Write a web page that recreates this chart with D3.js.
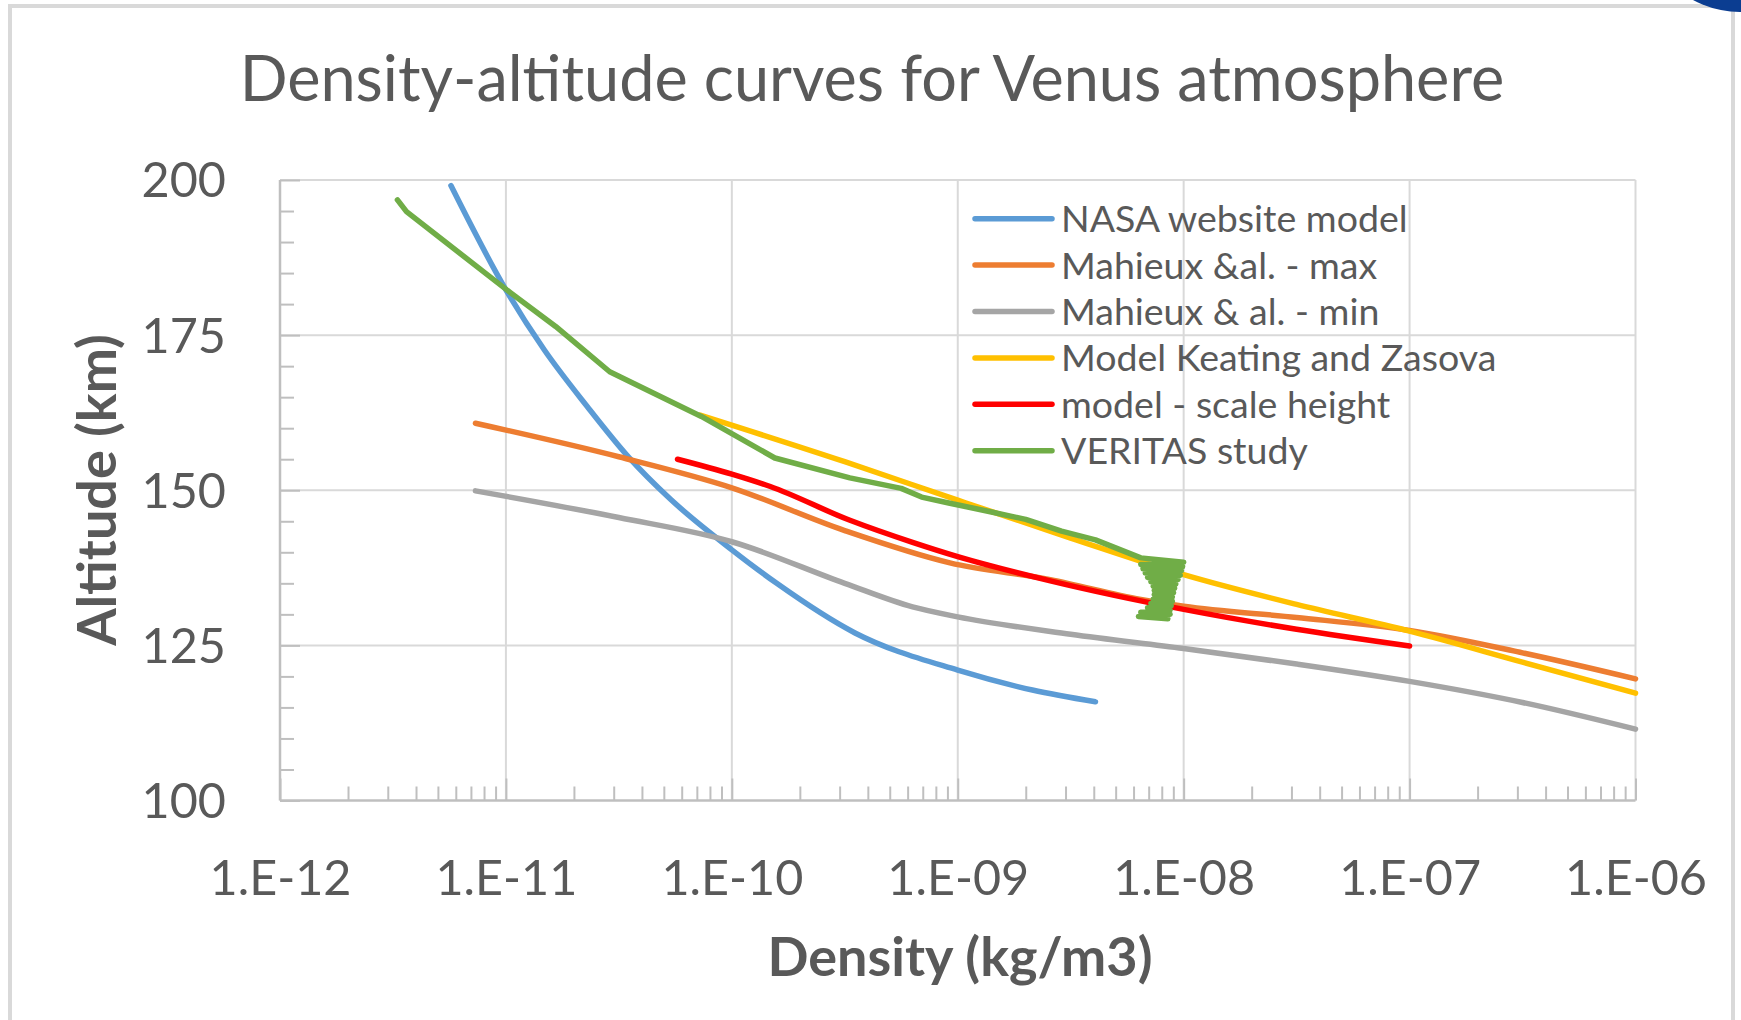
<!DOCTYPE html>
<html>
<head>
<meta charset="utf-8">
<title>Density-altitude curves for Venus atmosphere</title>
<script src="https://d3js.org/d3.v7.min.js"></script>
<style>
  body { margin: 0; background: #fff; }
  text { font-family: Lato, "Open Sans", sans-serif; fill: #595959; }
</style>
</head>
<body>
<svg id="chart" width="1741" height="1020"></svg>
<script>
// series names, in the legend order
var seriesNames = ["NASA website model", "Mahieux &al. - max", "Mahieux & al. - min",
  "Model Keating and Zasova", "model - scale height", "VERITAS study"];
var seriesColors = ["#5b9bd5", "#ed7d31", "#a5a5a5", "#ffc000", "#ff0000", "#70ad47"];

// density (kg/m3), altitude (km)
var nasaDensity = [5.71e-12, 1.0e-11, 1.48e-11, 2.29e-11, 3.50e-11, 5.37e-11, 1.0e-10, 1.58e-10, 3.51e-10, 1.0e-9, 2.14e-9, 4.07e-9];
var nasaAlt     = [199.1, 182.3, 172.6, 163.5, 155.3, 148.5, 140.4, 135.0, 127.0, 121.0, 117.8, 115.9];

var maxDensity = [7.33e-12, 3.16e-11, 1.0e-10, 3.16e-10, 9.23e-10, 2.57e-9, 6.46e-9, 1.0e-8, 3.16e-8, 1.0e-7, 3.16e-7, 1.0e-6];
var maxAlt     = [160.8, 155.4, 150.4, 143.5, 138.3, 135.6, 132.4, 131.3, 129.5, 127.4, 123.8, 119.6];

var minDensity = [7.33e-12, 3.16e-11, 1.0e-10, 3.16e-10, 6.31e-10, 1.0e-9, 3.16e-9, 1.0e-8, 3.16e-8, 1.0e-7, 3.16e-7, 1.0e-6];
var minAlt     = [149.9, 145.6, 141.7, 135.0, 131.2, 129.6, 126.8, 124.5, 122.0, 119.2, 115.8, 111.5];

var keatingDensity = [7.24e-11, 3.16e-10, 1.0e-9, 3.16e-9, 1.0e-8, 3.16e-8, 1.0e-7, 3.16e-7, 1.0e-6];
var keatingAlt     = [162.1, 154.6, 148.4, 142.3, 136.4, 131.6, 127.3, 122.3, 117.3];

var scaleHDensity = [5.75e-11, 1.0e-10, 1.48e-10, 3.31e-10, 6.31e-10, 1.0e-9, 2.57e-9, 1.0e-8, 3.16e-8, 1.0e-7];
var scaleHAlt     = [155.0, 152.6, 150.6, 145.2, 141.6, 139.3, 135.4, 130.8, 127.6, 124.9];

// the VERITAS data ends in a dense back-and-forth scribble near 1e-8
var veritasDensity = [3.31e-12, 3.63e-12, 1.05e-11, 1.66e-11, 2.88e-11, 7.33e-11, 1.55e-10, 3.33e-10, 5.62e-10, 6.92e-10,
  9.23e-10, 1.41e-9, 2.0e-9, 2.88e-9, 4.07e-9, 6.46e-9,
  1.0e-8, 6.46e-9, 9.89e-9, 6.61e-9, 9.77e-9, 6.76e-9, 9.66e-9, 6.92e-9, 9.44e-9, 7.16e-9, 9.23e-9, 7.33e-9,
  9.12e-9, 7.41e-9, 9.02e-9, 7.41e-9, 8.91e-9, 7.33e-9, 8.91e-9, 7.16e-9, 8.81e-9, 6.92e-9, 8.71e-9, 6.46e-9,
  8.71e-9, 6.31e-9, 8.51e-9];
var veritasAlt     = [196.8, 194.9, 181.8, 176.4, 169.1, 161.9, 155.2, 152.0, 150.3, 148.9,
  147.9, 146.5, 145.3, 143.4, 142.0, 139.1,
  138.4, 138.05, 137.7, 137.35, 137.0, 136.65, 136.3, 135.95, 135.6, 135.25, 134.9, 134.55,
  134.2, 133.85, 133.5, 133.15, 132.8, 132.45, 132.1, 131.75, 131.4, 131.05, 130.7, 130.35,
  130.0, 129.65, 129.3];

var xTicks = [1e-12, 1e-11, 1e-10, 1e-9, 1e-8, 1e-7, 1e-6];
var yTicks = [100, 125, 150, 175, 200];

var series = [
  {x: nasaDensity, y: nasaAlt, smooth: true},
  {x: maxDensity, y: maxAlt, smooth: true},
  {x: minDensity, y: minAlt, smooth: true},
  {x: keatingDensity, y: keatingAlt, smooth: true},
  {x: scaleHDensity, y: scaleHAlt, smooth: true},
  {x: veritasDensity, y: veritasAlt, smooth: false}
];

var svg = d3.select("#chart");

// frame of the slide
svg.append("rect")
  .attr("x", 10).attr("y", 6).attr("width", 1723).attr("height", 1030)
  .attr("fill", "#fff").attr("stroke", "#d9d9d9").attr("stroke-width", 4);
svg.append("circle").attr("cx", 1740).attr("cy", -86).attr("r", 98).attr("fill", "#0b3d91");

var plotLeft = 280, plotRight = 1635.5, plotTop = 180, plotBottom = 800.5;

var x = d3.scaleLog().domain([1e-12, 1e-6]).range([plotLeft, plotRight]);
var y = d3.scaleLinear().domain([100, 200]).range([plotBottom, plotTop]);

// title
svg.append("text")
  .attr("x", 872).attr("y", 101)
  .attr("text-anchor", "middle")
  .style("font-size", "63px")
  .text("Density-altitude curves for Venus atmosphere");

// grid
var grid = svg.append("g").attr("stroke", "#d9d9d9").attr("stroke-width", 2);
grid.selectAll(".gx").data(xTicks.slice(1)).enter().append("line")
  .attr("x1", d => x(d)).attr("x2", d => x(d)).attr("y1", plotTop).attr("y2", plotBottom);
grid.selectAll(".gy").data(yTicks.slice(1)).enter().append("line")
  .attr("x1", plotLeft).attr("x2", plotRight).attr("y1", d => y(d)).attr("y2", d => y(d));

// minor ticks (inside)
var xMinor = [];
xTicks.slice(0, -1).forEach(function (d) {
  for (var k = 2; k <= 9; k++) xMinor.push(d * k);
});
var yMinor = d3.range(105, 200, 5).filter(d => d % 25 !== 0);

function tickStyle(g) {
  g.select(".domain").remove();
  g.selectAll("line").attr("stroke", "#bfbfbf").attr("stroke-width", 2);
}
svg.append("g").attr("transform", "translate(0," + plotBottom + ")")
  .call(d3.axisBottom(x).tickValues(xMinor).tickSize(-14).tickFormat(""))
  .call(tickStyle);
svg.append("g").attr("transform", "translate(0," + plotBottom + ")")
  .call(d3.axisBottom(x).tickValues(xTicks).tickSize(-22).tickFormat(""))
  .call(tickStyle);
svg.append("g").attr("transform", "translate(" + plotLeft + ",0)")
  .call(d3.axisLeft(y).tickValues(yMinor).tickSize(-14).tickFormat(""))
  .call(tickStyle);
svg.append("g").attr("transform", "translate(" + plotLeft + ",0)")
  .call(d3.axisLeft(y).tickValues(yTicks).tickSize(-20).tickFormat(""))
  .call(tickStyle);

// axis lines
svg.append("line").attr("x1", plotLeft).attr("x2", plotRight).attr("y1", plotBottom).attr("y2", plotBottom)
  .attr("stroke", "#bfbfbf").attr("stroke-width", 2.5);
svg.append("line").attr("x1", plotLeft).attr("x2", plotLeft).attr("y1", plotTop).attr("y2", plotBottom)
  .attr("stroke", "#bfbfbf").attr("stroke-width", 2.5);

// tick labels
function sci(d) {
  var e = Math.round(Math.log10(d));
  return "1.E" + (e < 0 ? "-" : "+") + String(Math.abs(e)).padStart(2, "0");
}
svg.append("g").attr("transform", "translate(0," + plotBottom + ")")
  .call(d3.axisBottom(x).tickValues(xTicks).tickSize(0).tickPadding(0).tickFormat(sci))
  .call(g => g.select(".domain").remove())
  .call(g => g.selectAll("text").attr("y", 94).attr("dy", null)
    .style("font-size", "48.5px").attr("fill", "#595959").style("font-family", "Lato, sans-serif"));
svg.append("g").attr("transform", "translate(226,0)")
  .call(d3.axisLeft(y).tickValues(yTicks).tickSize(0).tickPadding(0))
  .call(g => g.select(".domain").remove())
  .call(g => g.selectAll("text").attr("x", 0).attr("dy", "0.35em")
    .style("font-size", "48.5px").attr("fill", "#595959").style("font-family", "Lato, sans-serif"));

// axis titles
svg.append("text")
  .attr("transform", "translate(116,490) rotate(-90)")
  .attr("text-anchor", "middle")
  .style("font-size", "54px").style("font-weight", "bold")
  .text("Altitude (km)");
svg.append("text")
  .attr("x", 960).attr("y", 976)
  .attr("text-anchor", "middle")
  .style("font-size", "54px").style("font-weight", "bold")
  .text("Density (kg/m3)");

// curves
var plot = svg.append("g");
series.forEach(function (s, i) {
  var pts = d3.zip(s.x, s.y);
  var line = d3.line()
    .x(d => x(d[0])).y(d => y(d[1]))
    .curve(s.smooth ? d3.curveMonotoneX : d3.curveLinear);
  plot.append("path")
    .attr("d", line(pts))
    .attr("fill", "none")
    .attr("stroke", seriesColors[i])
    .attr("stroke-width", 5.5)
    .attr("stroke-linejoin", "round")
    .attr("stroke-linecap", "round");
});

// legend
var legend = svg.append("g").attr("transform", "translate(975,218.7)");
var rows = legend.selectAll("g").data(seriesNames).enter().append("g")
  .attr("transform", (d, i) => "translate(0," + i * 46.4 + ")");
rows.append("line").attr("x1", 0).attr("x2", 77).attr("y1", 0).attr("y2", 0)
  .attr("stroke", (d, i) => seriesColors[i]).attr("stroke-width", 5.5).attr("stroke-linecap", "round");
rows.append("text").attr("x", 86).attr("dy", "0.36em")
  .style("font-size", "37.5px")
  .text(d => d);
</script>
</body>
</html>
